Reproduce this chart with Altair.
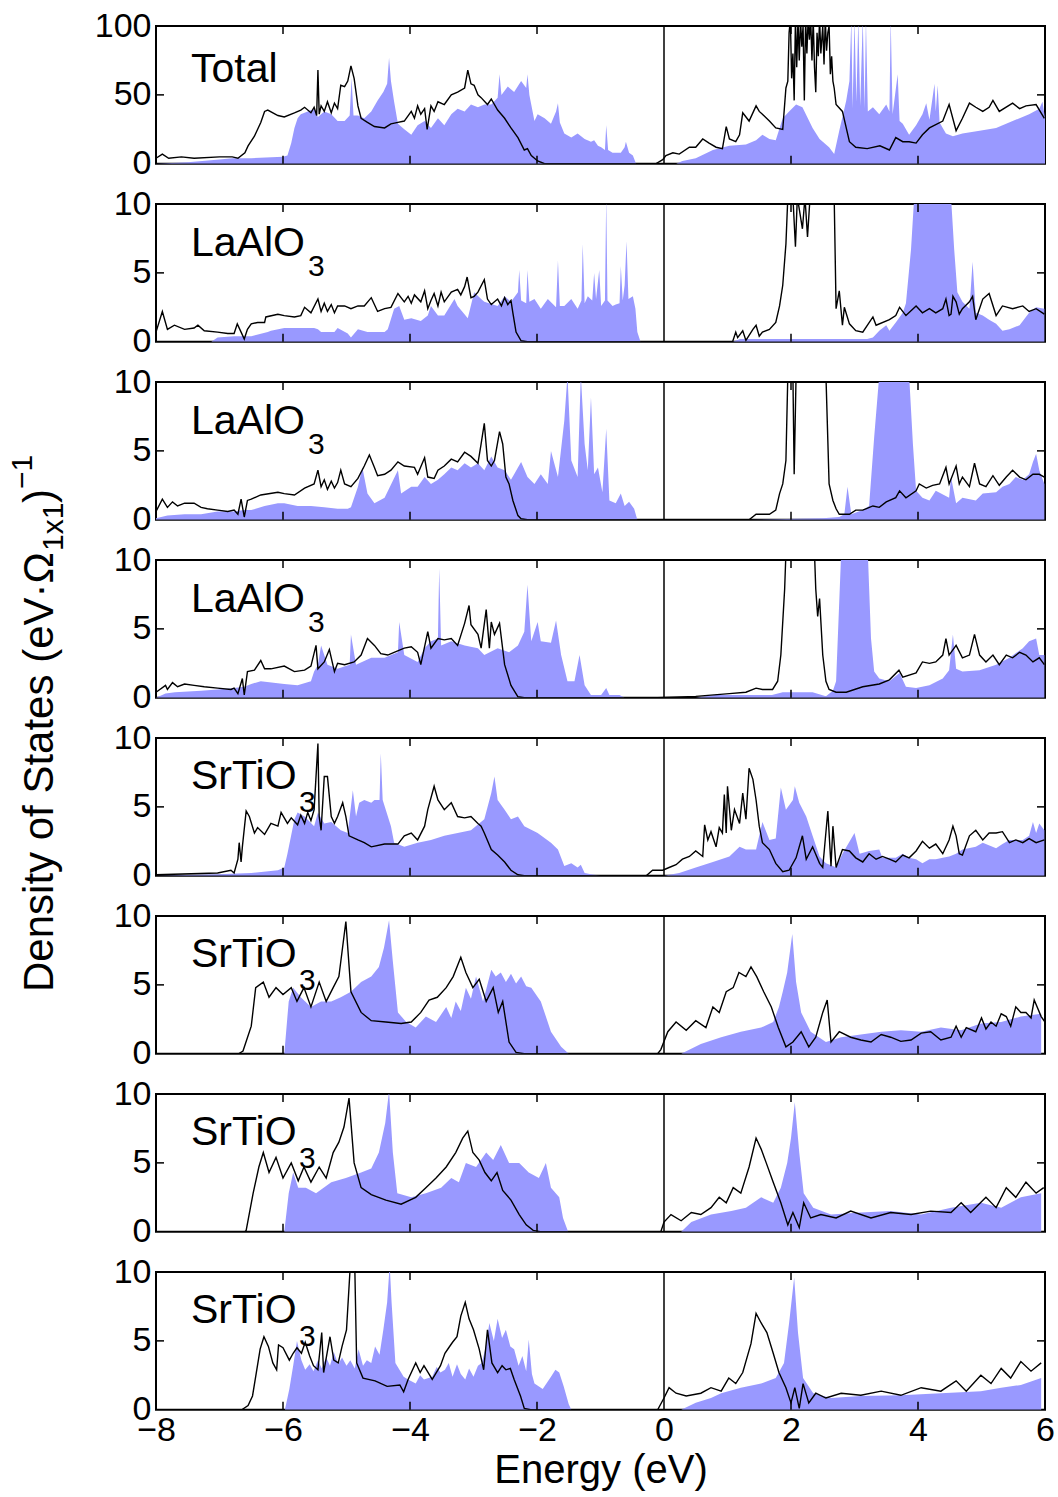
import altair as alt
import pandas as pd

FONT = "Liberation Sans"
BLUE = "#9999ff"
W = 889
H = 137.75

X_TICK_LABELS = [-8, -6, -4, -2, 0, 2, 4, 6]
X_INNER_TICKS = [-6, -4, -2, 2, 4]

# ---------------- Panel 1: Total ----------------
P1_FILL = [(-8.0,0),(-7.5,1),(-7.0,3),(-6.8,4),(-6.5,4),(-6.0,5),(-5.93,6),(-5.87,15),(-5.82,26),(-5.77,33),(-5.72,36),(-5.61,38),(-5.51,40),(-5.45,34),(-5.35,38),(-5.24,36),(-5.14,31),(-5.03,31),(-4.95,35),(-4.92,62),(-4.89,35),(-4.82,35),(-4.72,33),(-4.61,38),(-4.51,46),(-4.42,52),(-4.36,58),(-4.33,77),(-4.30,60),(-4.25,45),(-4.19,29),(-4.09,25),(-3.98,21),(-3.88,28),(-3.77,31),(-3.67,26),(-3.56,33),(-3.46,28),(-3.35,36),(-3.25,40),(-3.14,38),(-3.04,43),(-2.93,41),(-2.83,43),(-2.72,43),(-2.62,48),(-2.59,65),(-2.56,50),(-2.46,56),(-2.36,52),(-2.25,60),(-2.17,55),(-2.15,65),(-2.12,50),(-2.04,31),(-1.99,36),(-1.88,33),(-1.78,29),(-1.70,38),(-1.67,44),(-1.64,30),(-1.57,22),(-1.46,19),(-1.36,22),(-1.25,18),(-1.15,16),(-1.10,17),(-1.04,13),(-0.99,12),(-0.93,10),(-0.91,28),(-0.88,10),(-0.81,8),(-0.68,8),(-0.62,12),(-0.60,16),(-0.55,8),(-0.49,6),(-0.44,0),(0.19,0),(0.29,2),(0.50,4),(0.77,10),(1.03,13),(1.29,14),(1.45,17),(1.55,21),(1.66,18),(1.76,17),(1.87,33),(1.97,38),(2.08,43),(2.18,41),(2.34,26),(2.45,18),(2.60,12),(2.68,7),(2.76,24),(2.84,40),(2.87,46),(2.92,60),(2.95,105),(2.97,40),(3.00,105),(3.03,45),(3.06,105),(3.09,42),(3.13,105),(3.16,40),(3.18,105),(3.21,38),(3.29,41),(3.39,36),(3.50,43),(3.55,38),(3.57,105),(3.60,36),(3.68,65),(3.71,31),(3.76,29),(3.86,21),(3.97,28),(4.07,36),(4.13,44),(4.18,32),(4.26,58),(4.28,38),(4.31,57),(4.34,30),(4.44,22),(4.55,20),(4.70,22),(4.97,24),(5.23,26),(5.49,31),(5.75,36),(5.91,40),(5.96,45),(6.0,33)]
P1_LINE = [(-8.0,4),(-7.9,7),(-7.8,4),(-7.6,5),(-7.4,4),(-7.0,5),(-6.8,5),(-6.71,4),(-6.6,8),(-6.55,13),(-6.45,20),(-6.35,30),(-6.29,38),(-6.24,39),(-6.08,35),(-5.98,34),(-5.82,37),(-5.72,39),(-5.66,41),(-5.56,37),(-5.51,41),(-5.47,35),(-5.45,68),(-5.43,36),(-5.40,42),(-5.35,38),(-5.30,45),(-5.24,37),(-5.19,44),(-5.14,40),(-5.09,57),(-5.03,56),(-4.98,60),(-4.93,71),(-4.88,62),(-4.82,42),(-4.77,33),(-4.67,30),(-4.56,27),(-4.40,26),(-4.30,29),(-4.19,30),(-4.09,31),(-3.98,38),(-3.93,33),(-3.88,42),(-3.83,36),(-3.77,40),(-3.73,25),(-3.67,42),(-3.62,38),(-3.56,45),(-3.46,43),(-3.35,50),(-3.25,52),(-3.14,55),(-3.09,68),(-3.04,58),(-2.99,57),(-2.93,50),(-2.88,48),(-2.78,43),(-2.72,47),(-2.62,39),(-2.51,33),(-2.41,26),(-2.30,19),(-2.20,10),(-2.15,11),(-2.09,6),(-1.99,2),(-1.88,0),(-0.13,0),(-0.02,3),(0.03,6),(0.14,8),(0.24,7),(0.40,12),(0.50,12),(0.61,18),(0.71,15),(0.82,12),(0.92,11),(0.98,27),(1.03,18),(1.13,16),(1.19,21),(1.24,37),(1.34,31),(1.45,42),(1.50,38),(1.55,36),(1.66,31),(1.76,26),(1.87,25),(1.92,55),(1.95,60),(1.97,95),(1.99,105),(2.01,62),(2.03,80),(2.05,46),(2.07,105),(2.09,70),(2.11,105),(2.13,75),(2.15,105),(2.17,85),(2.19,100),(2.21,46),(2.23,105),(2.25,80),(2.27,105),(2.29,90),(2.31,105),(2.33,75),(2.35,105),(2.37,70),(2.39,52),(2.41,95),(2.43,78),(2.45,105),(2.47,80),(2.50,100),(2.52,72),(2.54,105),(2.56,82),(2.58,95),(2.60,100),(2.62,65),(2.64,78),(2.66,60),(2.68,55),(2.71,43),(2.81,38),(2.92,16),(3.02,12),(3.20,11),(3.40,13),(3.55,10),(3.65,19),(3.76,16),(3.86,16),(3.97,15),(4.07,21),(4.18,26),(4.39,31),(4.49,43),(4.60,24),(4.70,33),(4.81,44),(4.91,41),(5.02,38),(5.12,41),(5.18,46),(5.28,38),(5.49,44),(5.60,40),(5.70,42),(5.86,43),(5.99,33)]

# ---------------- Panel 2: LaAlO3 ----------------
P2_FILL = [(-8.0,0),(-7.13,0),(-7.03,0.3),(-6.77,0.4),(-6.50,0.4),(-6.24,0.7),(-6.19,0.8),(-5.98,1.0),(-5.72,1.0),(-5.51,1.0),(-5.45,0.9),(-5.40,0.7),(-5.19,0.7),(-5.14,1.0),(-4.98,0.6),(-4.93,0.3),(-4.82,0.9),(-4.67,0.7),(-4.40,0.7),(-4.35,0.9),(-4.25,2.4),(-4.17,2.6),(-4.09,1.6),(-3.98,1.7),(-3.83,1.5),(-3.72,1.9),(-3.67,2.6),(-3.56,1.9),(-3.46,1.9),(-3.30,3.1),(-3.25,2.6),(-3.09,1.7),(-2.99,3.6),(-2.88,3.1),(-2.83,2.9),(-2.62,2.6),(-2.51,3.3),(-2.41,2.9),(-2.30,3.6),(-2.28,5.2),(-2.25,3.0),(-2.17,2.8),(-2.15,5.2),(-2.12,2.9),(-2.04,3.1),(-1.94,2.4),(-1.83,3.1),(-1.70,2.5),(-1.67,5.9),(-1.64,2.6),(-1.57,2.6),(-1.46,3.1),(-1.36,2.4),(-1.30,3.0),(-1.28,7.1),(-1.25,2.8),(-1.20,3.3),(-1.13,3.0),(-1.10,5.0),(-1.07,3.1),(-1.02,5.2),(-0.99,2.6),(-0.93,3.0),(-0.91,10.5),(-0.89,3.0),(-0.81,2.6),(-0.76,2.7),(-0.70,2.8),(-0.68,5.5),(-0.65,3.0),(-0.62,4.1),(-0.59,7.3),(-0.56,3.1),(-0.49,3.3),(-0.45,2.4),(-0.42,0.7),(-0.37,0),(1.08,0),(1.2,0.2),(3.2,0.2),(3.29,0.3),(3.39,0.8),(3.50,1.2),(3.55,0.8),(3.65,1.4),(3.76,2.1),(3.81,2.8),(3.89,6.7),(3.94,10.5),(4.52,10.5),(4.57,6.7),(4.62,3.6),(4.70,2.9),(4.81,2.4),(4.86,5.8),(4.91,2.1),(5.02,1.9),(5.12,1.6),(5.23,1.3),(5.33,0.8),(5.44,0.9),(5.60,1.2),(5.75,2.1),(5.86,2.5),(5.99,2.4)]
P2_LINE = [(-8.0,0.7),(-7.9,2.2),(-7.82,0.9),(-7.71,1.2),(-7.55,0.9),(-7.40,1.0),(-7.34,1.2),(-7.24,0.8),(-7.03,0.7),(-6.87,0.6),(-6.77,0.6),(-6.72,1.3),(-6.66,0.7),(-6.61,0.2),(-6.56,0.9),(-6.50,1.3),(-6.40,1.4),(-6.29,1.4),(-6.27,1.8),(-6.08,2.0),(-5.98,1.9),(-5.82,1.8),(-5.72,1.9),(-5.66,2.5),(-5.56,2.1),(-5.45,3.1),(-5.40,2.2),(-5.35,2.8),(-5.30,2.2),(-5.24,2.7),(-5.19,2.1),(-5.14,2.6),(-5.03,2.6),(-4.93,2.4),(-4.82,2.6),(-4.72,2.6),(-4.61,3.2),(-4.51,2.2),(-4.40,2.4),(-4.30,2.5),(-4.19,3.5),(-4.09,2.9),(-4.03,3.3),(-3.98,2.8),(-3.93,3.4),(-3.83,2.9),(-3.77,3.7),(-3.72,2.4),(-3.67,3.0),(-3.62,3.5),(-3.56,2.6),(-3.51,3.6),(-3.46,2.9),(-3.35,3.6),(-3.25,3.8),(-3.20,3.4),(-3.14,4.0),(-3.10,4.7),(-3.04,3.2),(-2.99,3.3),(-2.93,3.6),(-2.83,4.5),(-2.78,3.1),(-2.72,2.7),(-2.62,3.1),(-2.56,2.6),(-2.51,3.2),(-2.46,2.7),(-2.41,3.0),(-2.38,2.1),(-2.33,0.7),(-2.25,0.07),(-2.15,0),(1.08,0),(1.13,0.7),(1.16,0.3),(1.24,0.8),(1.29,0.1),(1.40,0.9),(1.45,1.2),(1.50,0.4),(1.55,0.7),(1.66,0.9),(1.76,1.4),(1.82,2.6),(1.87,4.1),(1.92,7.1),(1.95,10.5),(2.03,10.5),(2.07,6.9),(2.10,10.5),(2.18,8.2),(2.22,10.5),(2.26,7.6),(2.30,10.5),(2.68,10.5),(2.71,2.4),(2.76,3.7),(2.81,1.2),(2.84,2.5),(2.92,1.3),(3.02,0.8),(3.13,0.7),(3.29,1.8),(3.34,1.2),(3.55,1.6),(3.65,1.9),(3.71,2.5),(3.81,1.9),(3.97,2.6),(4.07,2.1),(4.18,2.4),(4.28,2.1),(4.39,2.4),(4.44,3.1),(4.49,1.9),(4.52,2.0),(4.55,3.3),(4.60,2.9),(4.65,2.0),(4.70,2.4),(4.81,2.9),(4.86,3.3),(4.91,1.6),(5.02,3.1),(5.12,3.5),(5.23,1.9),(5.33,2.6),(5.49,2.4),(5.65,2.6),(5.75,2.2),(5.86,2.4),(5.99,2.0)]

# ---------------- Panel 3: LaAlO3 ----------------
P3_FILL = [(-8.0,0.1),(-7.82,0.3),(-7.55,0.4),(-7.29,0.4),(-7.03,0.6),(-6.77,0.6),(-6.61,0.7),(-6.50,0.7),(-6.29,1.0),(-6.08,1.2),(-5.98,1.2),(-5.77,1.0),(-5.56,1.0),(-5.35,0.9),(-5.14,0.8),(-4.98,0.8),(-4.93,0.9),(-4.82,2.4),(-4.75,3.8),(-4.67,1.9),(-4.56,1.2),(-4.40,1.6),(-4.19,3.6),(-4.14,1.9),(-3.98,2.4),(-3.88,2.4),(-3.77,3.1),(-3.67,2.6),(-3.56,2.9),(-3.46,3.3),(-3.35,3.8),(-3.25,3.6),(-3.14,4.1),(-3.04,3.8),(-2.93,4.1),(-2.83,3.6),(-2.72,4.6),(-2.62,3.8),(-2.51,3.6),(-2.41,2.9),(-2.36,3.3),(-2.30,3.8),(-2.25,4.2),(-2.15,3.1),(-2.04,2.6),(-1.94,3.3),(-1.83,2.6),(-1.78,5.0),(-1.67,3.1),(-1.57,7.2),(-1.52,10.5),(-1.46,4.3),(-1.36,3.1),(-1.31,10.5),(-1.25,5.5),(-1.20,3.6),(-1.15,8.9),(-1.10,3.3),(-1.04,3.8),(-0.97,2.0),(-0.91,6.6),(-0.86,1.4),(-0.76,1.2),(-0.68,1.9),(-0.62,1.0),(-0.55,1.3),(-0.47,0.8),(-0.42,0),(1.34,0),(2.5,0.1),(2.76,0.2),(2.84,0.4),(2.89,2.4),(2.95,0.4),(3.13,0.7),(3.23,1.0),(3.31,6.0),(3.39,10.5),(3.86,10.5),(3.92,5.5),(3.97,2.1),(4.07,1.6),(4.18,1.4),(4.28,2.1),(4.49,1.6),(4.52,3.1),(4.60,1.2),(4.70,1.6),(4.91,1.4),(5.02,1.9),(5.23,2.0),(5.33,2.4),(5.44,2.6),(5.54,3.1),(5.65,2.9),(5.75,3.3),(5.81,4.2),(5.86,4.8),(5.91,3.6),(5.99,2.6)]
P3_LINE = [(-8.0,0.6),(-7.9,1.5),(-7.82,0.9),(-7.74,1.3),(-7.66,1.0),(-7.55,1.2),(-7.40,1.2),(-7.29,0.9),(-7.19,0.8),(-7.03,0.7),(-6.87,0.6),(-6.77,0.7),(-6.71,0.4),(-6.66,1.5),(-6.61,0.2),(-6.56,1.4),(-6.50,1.5),(-6.35,1.8),(-6.08,2.0),(-5.98,1.9),(-5.82,1.8),(-5.66,2.3),(-5.51,2.6),(-5.45,3.6),(-5.40,2.4),(-5.35,2.9),(-5.30,2.2),(-5.24,2.8),(-5.19,2.3),(-5.14,2.7),(-5.09,3.6),(-5.03,2.6),(-4.93,2.4),(-4.82,3.0),(-4.72,3.9),(-4.64,4.7),(-4.56,3.8),(-4.51,3.2),(-4.40,3.3),(-4.30,3.6),(-4.19,4.2),(-4.09,3.9),(-3.93,3.8),(-3.88,3.3),(-3.77,4.5),(-3.72,3.1),(-3.62,3.0),(-3.56,3.6),(-3.46,3.9),(-3.35,4.4),(-3.25,4.2),(-3.14,4.9),(-3.04,4.6),(-2.93,4.1),(-2.88,5.5),(-2.83,7.0),(-2.78,4.3),(-2.72,3.9),(-2.67,4.3),(-2.59,6.4),(-2.54,5.5),(-2.49,3.1),(-2.44,2.6),(-2.38,1.4),(-2.30,0.3),(-2.25,0.07),(-2.15,0),(1.34,0),(1.45,0.4),(1.55,0.4),(1.66,0.4),(1.76,0.7),(1.82,1.9),(1.87,2.6),(1.92,4.3),(1.95,10.5),(2.03,10.5),(2.05,3.3),(2.08,10.5),(2.55,10.5),(2.60,2.6),(2.66,1.4),(2.71,0.8),(2.76,0.4),(2.92,0.4),(3.02,0.7),(3.13,0.7),(3.29,1.0),(3.39,0.9),(3.50,1.3),(3.65,1.6),(3.71,2.1),(3.81,1.6),(3.97,2.1),(4.02,2.6),(4.13,2.3),(4.23,2.5),(4.34,2.6),(4.44,3.8),(4.49,2.6),(4.60,3.9),(4.65,2.6),(4.70,3.1),(4.81,2.4),(4.89,4.1),(4.97,2.6),(5.07,2.4),(5.18,3.2),(5.28,2.5),(5.39,3.1),(5.49,3.6),(5.60,3.1),(5.70,2.9),(5.81,3.3),(5.91,3.3),(5.99,3.1)]

# ---------------- Panel 4: LaAlO3 ----------------
P4_FILL = [(-8.0,0),(-7.85,0.3),(-7.7,0.4),(-7.29,0.5),(-7.03,0.6),(-6.77,0.7),(-6.61,0.8),(-6.50,1.0),(-6.35,1.2),(-5.98,1.0),(-5.77,0.9),(-5.56,1.2),(-5.51,1.9),(-5.45,2.4),(-5.40,3.8),(-5.30,2.4),(-5.14,2.1),(-4.95,2.4),(-4.93,4.6),(-4.85,2.4),(-4.61,2.9),(-4.40,2.9),(-4.19,3.3),(-4.17,5.5),(-4.09,3.1),(-3.88,2.6),(-3.77,3.6),(-3.67,4.1),(-3.56,4.3),(-3.54,9.4),(-3.51,3.8),(-3.35,4.1),(-3.14,3.8),(-2.93,3.6),(-2.83,3.1),(-2.62,3.6),(-2.44,3.3),(-2.30,3.8),(-2.20,4.8),(-2.15,8.2),(-2.09,4.1),(-1.99,5.5),(-1.94,4.1),(-1.78,4.0),(-1.70,5.6),(-1.62,3.1),(-1.52,1.2),(-1.41,1.2),(-1.33,3.1),(-1.25,0.9),(-1.15,0.2),(-0.99,0.2),(-0.91,0.7),(-0.86,0.2),(-0.70,0.2),(-0.62,0),(0.5,0),(0.8,0.2),(1.7,0.2),(1.87,0.4),(2.34,0.4),(2.55,0.1),(2.66,0.5),(2.71,1.2),(2.79,10.5),(3.21,10.5),(3.26,4.3),(3.31,1.9),(3.39,1.4),(3.55,1.2),(3.71,1.8),(3.81,0.8),(3.97,0.7),(4.18,0.9),(4.39,1.4),(4.49,2.0),(4.55,4.6),(4.60,2.1),(4.70,1.9),(4.97,2.0),(5.23,2.4),(5.44,2.9),(5.65,3.6),(5.75,4.1),(5.86,4.3),(5.91,3.1),(5.99,3.1)]
P4_LINE = [(-8.0,0.4),(-7.85,0.9),(-7.82,0.6),(-7.74,1.1),(-7.66,0.8),(-7.55,1.0),(-7.40,0.9),(-7.24,0.8),(-7.03,0.7),(-6.82,0.6),(-6.77,0.7),(-6.71,0.3),(-6.64,1.4),(-6.61,0.2),(-6.56,1.9),(-6.45,2.0),(-6.35,2.7),(-6.29,2.1),(-6.19,2.1),(-5.98,2.3),(-5.82,1.9),(-5.66,2.0),(-5.56,2.3),(-5.48,3.8),(-5.45,2.1),(-5.35,2.6),(-5.27,3.5),(-5.19,1.9),(-5.14,2.5),(-5.03,2.4),(-4.88,2.6),(-4.77,3.1),(-4.67,4.3),(-4.56,3.8),(-4.46,3.2),(-4.35,3.1),(-4.25,3.3),(-4.09,3.6),(-3.98,3.7),(-3.88,3.3),(-3.83,2.4),(-3.72,4.8),(-3.67,3.6),(-3.56,4.3),(-3.46,4.2),(-3.35,4.3),(-3.25,3.8),(-3.14,5.4),(-3.07,6.7),(-3.04,5.3),(-2.93,4.6),(-2.88,3.6),(-2.80,6.4),(-2.75,3.6),(-2.72,5.5),(-2.67,4.6),(-2.59,5.4),(-2.51,2.4),(-2.41,0.9),(-2.30,0.07),(-2.2,0),(-0.1,0),(0.5,0.1),(1.03,0.3),(1.29,0.4),(1.45,0.7),(1.55,0.6),(1.71,0.6),(1.79,1.2),(1.84,3.1),(1.90,7.9),(1.92,10.5),(2.37,10.5),(2.39,7.9),(2.42,5.9),(2.45,7.2),(2.50,3.1),(2.55,1.2),(2.60,0.6),(2.71,0.4),(2.87,0.4),(3.13,0.8),(3.39,1.0),(3.55,1.3),(3.70,2.0),(3.76,1.5),(3.97,1.8),(4.07,2.6),(4.18,2.5),(4.28,2.6),(4.39,3.1),(4.44,4.3),(4.49,3.1),(4.60,3.8),(4.70,2.9),(4.81,3.1),(4.89,4.6),(4.97,3.1),(5.07,2.6),(5.18,3.1),(5.28,2.4),(5.39,3.1),(5.49,2.9),(5.60,3.3),(5.70,3.1),(5.81,2.6),(5.91,2.9),(5.99,2.4)]

# ---------------- Panel 5: SrTiO3 ----------------
P5_FILL = [(-8.0,0),(-7.03,0.1),(-6.50,0.2),(-6.08,0.4),(-5.98,0.6),(-5.93,1.6),(-5.82,4.1),(-5.77,4.6),(-5.66,4.3),(-5.51,3.6),(-5.45,4.6),(-5.35,3.8),(-5.24,3.9),(-5.09,3.3),(-4.98,3.1),(-4.90,6.2),(-4.85,4.3),(-4.80,5.3),(-4.72,5.5),(-4.61,5.3),(-4.56,5.5),(-4.48,5.5),(-4.46,8.9),(-4.43,5.5),(-4.30,3.6),(-4.25,2.4),(-4.09,2.1),(-3.88,2.4),(-3.67,2.6),(-3.46,2.9),(-3.25,3.1),(-3.04,3.3),(-2.83,4.1),(-2.72,6.0),(-2.67,7.2),(-2.62,5.5),(-2.51,4.8),(-2.41,4.1),(-2.30,4.3),(-2.20,3.6),(-1.99,3.1),(-1.78,2.4),(-1.67,1.9),(-1.57,0.7),(-1.46,0.9),(-1.36,0.6),(-1.31,0.8),(-1.25,0.2),(-1.15,0.1),(-1.0,0),(0.0,0),(0.24,0.2),(0.50,0.6),(0.77,1.0),(1.03,1.4),(1.19,2.1),(1.29,1.9),(1.45,1.9),(1.55,3.9),(1.66,2.6),(1.76,2.7),(1.84,6.4),(1.92,4.8),(2.03,5.5),(2.06,6.5),(2.13,5.3),(2.24,4.3),(2.34,2.9),(2.45,1.4),(2.55,0.9),(2.66,0.7),(2.71,0.6),(2.81,1.6),(3.00,3.1),(3.08,1.6),(3.23,1.8),(3.39,1.9),(3.44,1.3),(3.65,1.3),(3.76,1.6),(3.86,1.3),(3.97,1.2),(4.07,0.9),(4.18,1.2),(4.28,1.2),(4.39,1.3),(4.49,1.4),(4.60,1.6),(4.70,1.9),(4.91,2.1),(5.02,2.4),(5.23,2.0),(5.33,2.3),(5.44,2.6),(5.65,2.6),(5.75,2.9),(5.81,3.9),(5.86,3.1),(5.91,3.8),(5.99,3.3)]
P5_LINE = [(-8.0,0.07),(-7.03,0.2),(-6.82,0.4),(-6.77,0.2),(-6.71,1.2),(-6.69,2.4),(-6.66,1.0),(-6.64,2.1),(-6.58,4.7),(-6.53,4.3),(-6.45,3.1),(-6.40,3.5),(-6.29,3.0),(-6.19,3.8),(-6.08,3.6),(-6.03,4.6),(-5.93,3.8),(-5.87,4.2),(-5.77,3.7),(-5.72,4.4),(-5.66,3.8),(-5.61,4.6),(-5.56,4.0),(-5.51,4.8),(-5.45,9.6),(-5.43,4.3),(-5.40,3.3),(-5.35,7.2),(-5.30,7.2),(-5.24,4.3),(-5.19,3.8),(-5.14,4.3),(-5.06,5.3),(-5.01,4.3),(-4.96,2.9),(-4.82,2.6),(-4.72,2.4),(-4.61,2.1),(-4.40,2.3),(-4.19,2.3),(-4.09,2.9),(-3.98,3.1),(-3.88,2.6),(-3.77,3.6),(-3.72,4.8),(-3.62,6.5),(-3.56,5.5),(-3.46,4.8),(-3.35,5.3),(-3.25,4.3),(-3.14,4.2),(-3.04,4.3),(-2.93,3.8),(-2.88,3.6),(-2.83,3.1),(-2.72,1.9),(-2.62,1.5),(-2.51,1.0),(-2.41,0.4),(-2.30,0.07),(-2.2,0),(-0.28,0),(-0.18,0.4),(-0.02,0.4),(0.08,0.6),(0.19,0.8),(0.29,1.2),(0.40,1.4),(0.50,1.8),(0.61,1.4),(0.64,3.7),(0.69,2.6),(0.74,3.2),(0.82,2.1),(0.87,3.5),(0.92,3.1),(0.95,5.9),(0.98,3.1),(1.00,6.5),(1.06,3.3),(1.11,4.8),(1.19,3.8),(1.24,6.0),(1.29,4.1),(1.34,7.8),(1.40,7.0),(1.45,5.5),(1.50,3.6),(1.55,2.4),(1.66,1.9),(1.76,0.9),(1.87,0.3),(1.97,0.4),(2.08,1.3),(2.18,2.9),(2.24,1.2),(2.34,2.1),(2.45,0.9),(2.50,0.6),(2.58,4.7),(2.63,0.7),(2.66,3.6),(2.71,0.6),(2.81,1.9),(2.92,1.8),(3.02,1.3),(3.13,1.0),(3.23,1.6),(3.34,1.2),(3.44,1.4),(3.55,1.2),(3.65,1.0),(3.76,1.5),(3.86,1.3),(3.97,1.8),(4.07,2.5),(4.18,2.0),(4.28,2.3),(4.39,1.6),(4.49,2.6),(4.55,3.6),(4.60,2.9),(4.65,1.6),(4.70,1.5),(4.81,2.9),(4.91,3.3),(5.02,2.6),(5.12,3.1),(5.23,3.1),(5.33,3.2),(5.44,2.4),(5.54,2.6),(5.65,2.4),(5.75,2.7),(5.86,2.4),(5.99,2.6)]

# ---------------- Panel 6: SrTiO3 ----------------
P6_FILL = [(-8.0,0),(-5.98,0),(-5.91,3.8),(-5.84,4.8),(-5.72,4.1),(-5.56,3.4),(-5.40,3.8),(-5.24,3.8),(-5.09,4.1),(-4.93,4.5),(-4.77,5.2),(-4.61,5.6),(-4.49,6.3),(-4.41,7.7),(-4.33,9.7),(-4.27,6.7),(-4.19,3.0),(-4.06,2.3),(-3.91,1.9),(-3.75,2.7),(-3.59,2.3),(-3.43,3.4),(-3.35,2.6),(-3.28,3.8),(-3.20,3.1),(-3.12,4.8),(-3.04,4.0),(-2.96,5.6),(-2.85,3.8),(-2.72,6.1),(-2.65,5.6),(-2.57,5.9),(-2.49,5.2),(-2.41,5.8),(-2.33,5.1),(-2.25,5.6),(-2.17,4.9),(-2.09,4.8),(-1.94,3.8),(-1.78,1.6),(-1.62,0.5),(-1.50,0),(0.27,0),(0.58,0.7),(0.90,1.2),(1.21,1.6),(1.53,1.9),(1.72,2.3),(1.81,3.4),(1.87,4.5),(1.94,5.9),(2.02,8.7),(2.08,5.2),(2.16,3.0),(2.31,1.6),(2.55,0.85),(2.79,1.2),(3.10,1.4),(3.42,1.6),(3.73,1.7),(4.05,1.6),(4.36,1.9),(4.68,1.7),(4.99,2.2),(5.31,2.3),(5.62,2.7),(5.94,2.9)]
P6_LINE = [(-8.0,0),(-6.7,0),(-6.63,0.2),(-6.5,2.0),(-6.43,4.8),(-6.31,5.2),(-6.22,4.1),(-6.11,4.8),(-6.0,4.3),(-5.87,4.8),(-5.78,3.8),(-5.67,4.8),(-5.56,3.4),(-5.43,5.2),(-5.32,3.8),(-5.21,4.8),(-5.12,5.6),(-5.01,9.6),(-4.93,4.5),(-4.77,3.0),(-4.61,2.4),(-4.38,2.3),(-4.14,2.2),(-3.98,2.3),(-3.83,3.0),(-3.70,3.9),(-3.57,4.1),(-3.43,4.8),(-3.32,5.6),(-3.20,7.0),(-3.12,5.9),(-3.01,4.8),(-2.91,5.4),(-2.80,3.8),(-2.69,4.8),(-2.61,3.0),(-2.54,3.8),(-2.44,0.85),(-2.33,0.1),(-2.2,0),(-0.1,0),(-0.05,0.3),(0.06,1.6),(0.19,2.3),(0.35,1.7),(0.50,2.4),(0.66,1.9),(0.77,3.4),(0.87,3.0),(0.98,4.5),(1.09,4.8),(1.18,5.9),(1.29,5.6),(1.37,6.3),(1.46,5.6),(1.57,4.5),(1.69,3.4),(1.80,1.9),(1.92,0.5),(2.03,0.85),(2.16,1.6),(2.28,0.5),(2.39,1.2),(2.50,3.0),(2.57,3.9),(2.63,0.85),(2.76,1.6),(2.94,1.2),(3.10,1.0),(3.26,0.85),(3.42,1.4),(3.57,1.2),(3.73,0.9),(3.89,1.0),(4.05,1.5),(4.20,1.6),(4.36,1.0),(4.52,1.2),(4.60,2.0),(4.68,1.2),(4.76,1.9),(4.91,1.6),(5.00,2.6),(5.07,1.8),(5.15,2.3),(5.23,2.0),(5.31,2.9),(5.39,2.7),(5.46,2.0),(5.54,3.4),(5.62,3.0),(5.70,3.0),(5.78,2.6),(5.83,3.9),(5.94,2.7),(6.0,2.3)]

# ---------------- Panel 7: SrTiO3 ----------------
P7_FILL = [(-8.0,0),(-5.98,0),(-5.91,2.8),(-5.84,4.3),(-5.76,3.2),(-5.64,3.2),(-5.48,2.8),(-5.24,3.6),(-5.01,3.9),(-4.77,4.3),(-4.61,4.6),(-4.49,5.75),(-4.39,7.9),(-4.33,10.2),(-4.27,5.75),(-4.20,2.8),(-3.98,2.5),(-3.75,2.8),(-3.51,3.2),(-3.35,3.9),(-3.23,3.6),(-3.12,5.0),(-2.96,4.7),(-2.80,5.75),(-2.69,5.2),(-2.57,6.3),(-2.44,5.0),(-2.28,5.0),(-2.13,4.3),(-1.97,3.9),(-1.86,5.0),(-1.78,3.2),(-1.65,2.5),(-1.59,1.0),(-1.51,0),(0.27,0),(0.43,0.7),(0.74,1.25),(1.06,1.5),(1.29,1.75),(1.53,2.5),(1.72,2.1),(1.84,3.2),(1.94,5.0),(2.0,6.8),(2.06,9.4),(2.13,5.75),(2.20,2.8),(2.35,1.75),(2.63,1.25),(3.10,1.4),(3.57,1.5),(4.05,1.25),(4.52,1.75),(4.99,2.1),(5.31,1.75),(5.62,2.5),(5.94,2.8)]
P7_LINE = [(-8.0,0),(-6.6,0),(-6.58,0.1),(-6.47,2.8),(-6.38,4.7),(-6.31,5.75),(-6.22,4.3),(-6.11,5.4),(-6.0,3.9),(-5.87,5.0),(-5.76,3.7),(-5.67,4.7),(-5.56,3.6),(-5.43,4.7),(-5.32,3.9),(-5.21,5.75),(-5.12,6.5),(-5.04,7.6),(-4.96,9.7),(-4.88,5.0),(-4.77,3.2),(-4.61,2.7),(-4.38,2.3),(-4.14,2.0),(-3.91,2.5),(-3.75,3.2),(-3.59,3.9),(-3.43,4.7),(-3.28,5.75),(-3.17,6.8),(-3.09,7.3),(-3.01,5.75),(-2.91,5.2),(-2.82,4.3),(-2.72,3.7),(-2.63,4.3),(-2.54,3.0),(-2.41,2.3),(-2.28,1.25),(-2.17,0.5),(-2.06,0.1),(-1.95,0),(-0.05,0),(0.0,0.7),(0.11,1.25),(0.27,0.8),(0.43,1.4),(0.58,1.25),(0.74,1.75),(0.87,2.5),(0.98,2.1),(1.09,3.2),(1.21,2.8),(1.34,4.7),(1.45,6.8),(1.53,6.0),(1.61,5.0),(1.72,3.6),(1.84,2.1),(1.95,0.5),(2.03,1.4),(2.13,0.3),(2.20,2.1),(2.31,1.0),(2.47,1.25),(2.71,1.0),(2.94,1.5),(3.26,1.0),(3.57,1.4),(3.89,1.25),(4.20,1.5),(4.52,1.4),(4.68,2.1),(4.83,1.4),(5.07,2.5),(5.23,1.75),(5.39,3.2),(5.54,2.5),(5.70,3.6),(5.86,2.8),(5.98,3.2)]

# ---------------- Panel 8: SrTiO3 ----------------
P8_FILL = [(-8.0,0),(-5.97,0),(-5.90,1.5),(-5.84,3.2),(-5.78,5.0),(-5.71,3.6),(-5.65,2.9),(-5.58,3.3),(-5.52,2.8),(-5.45,3.6),(-5.39,3.0),(-5.32,3.8),(-5.26,3.2),(-5.20,4.2),(-5.13,3.3),(-5.07,3.8),(-5.00,3.2),(-4.94,3.6),(-4.87,3.0),(-4.81,4.4),(-4.74,3.2),(-4.68,3.6),(-4.61,3.4),(-4.55,4.6),(-4.48,4.0),(-4.42,5.8),(-4.36,7.8),(-4.32,10.5),(-4.29,7.8),(-4.23,3.4),(-4.10,2.4),(-4.03,2.2),(-3.91,1.9),(-3.84,2.5),(-3.78,2.2),(-3.65,2.4),(-3.58,3.1),(-3.52,2.7),(-3.45,2.9),(-3.39,3.4),(-3.33,2.4),(-3.26,3.3),(-3.20,2.6),(-3.13,2.2),(-3.07,3.0),(-3.00,2.4),(-2.93,3.2),(-2.87,3.4),(-2.81,4.5),(-2.75,6.3),(-2.68,5.0),(-2.62,6.6),(-2.55,5.2),(-2.49,5.8),(-2.42,4.6),(-2.36,4.4),(-2.29,3.2),(-2.23,3.9),(-2.17,2.8),(-2.13,5.1),(-2.08,2.6),(-2.04,1.9),(-1.91,1.5),(-1.78,2.4),(-1.71,2.9),(-1.65,2.7),(-1.58,1.7),(-1.50,0.4),(-1.46,0),(0.27,0),(0.50,0.5),(0.74,0.85),(0.90,1.2),(1.21,1.6),(1.53,1.9),(1.76,2.3),(1.89,3.4),(1.97,6.3),(2.05,9.6),(2.11,5.6),(2.19,2.3),(2.35,1.2),(2.63,0.85),(3.10,1.0),(3.73,1.05),(4.36,1.2),(4.99,1.35),(5.31,1.6),(5.62,1.8),(5.94,2.3)]
P8_LINE = [(-8.0,0),(-6.65,0),(-6.55,0.3),(-6.48,1.0),(-6.42,2.7),(-6.36,4.4),(-6.30,5.3),(-6.23,4.6),(-6.16,3.4),(-6.10,2.9),(-6.07,4.7),(-6.00,4.5),(-5.90,3.6),(-5.84,4.1),(-5.78,4.5),(-5.71,4.1),(-5.65,4.9),(-5.58,3.9),(-5.52,3.2),(-5.45,2.9),(-5.39,5.6),(-5.36,2.7),(-5.26,5.3),(-5.20,3.6),(-5.13,3.4),(-5.07,4.6),(-5.00,5.8),(-4.94,10.5),(-4.87,10.5),(-4.84,3.4),(-4.74,2.3),(-4.55,2.1),(-4.36,1.7),(-4.16,1.8),(-4.10,1.3),(-4.03,2.2),(-3.91,3.4),(-3.84,2.7),(-3.78,3.2),(-3.65,2.2),(-3.52,3.2),(-3.45,4.1),(-3.39,4.5),(-3.33,4.9),(-3.26,5.3),(-3.20,6.8),(-3.13,7.8),(-3.07,6.6),(-3.00,5.8),(-2.91,4.4),(-2.84,2.9),(-2.78,5.8),(-2.71,3.4),(-2.62,2.7),(-2.55,3.2),(-2.49,2.9),(-2.42,3.0),(-2.36,2.2),(-2.26,1.0),(-2.20,0.1),(-2.1,0),(-0.1,0),(0.0,0.85),(0.08,1.6),(0.19,1.2),(0.35,1.0),(0.58,1.2),(0.74,1.6),(0.90,1.35),(1.02,2.3),(1.13,1.9),(1.24,2.7),(1.37,4.8),(1.45,7.0),(1.53,6.3),(1.62,5.6),(1.72,4.1),(1.81,2.7),(1.92,1.6),(2.0,0.5),(2.06,1.6),(2.13,0.1),(2.19,1.9),(2.28,0.5),(2.39,1.2),(2.55,0.85),(2.79,1.2),(3.10,1.05),(3.42,1.35),(3.73,1.05),(4.05,1.6),(4.36,1.35),(4.60,2.1),(4.76,1.35),(4.99,2.5),(5.15,1.9),(5.31,3.0),(5.46,2.3),(5.62,3.5),(5.78,2.8),(5.94,3.4)]

PANELS = [
    dict(fill=P1_FILL, line=P1_LINE, ymax=100, label="Total", sub="", lab_y=56),
    dict(fill=P2_FILL, line=P2_LINE, ymax=10, label="LaAlO", sub="3", lab_y=52, sub_x=152, sub_y=72),
    dict(fill=P3_FILL, line=P3_LINE, ymax=10, label="LaAlO", sub="3", lab_y=52, sub_x=152, sub_y=72),
    dict(fill=P4_FILL, line=P4_LINE, ymax=10, label="LaAlO", sub="3", lab_y=52, sub_x=152, sub_y=72),
    dict(fill=P5_FILL, line=P5_LINE, ymax=10, label="SrTiO", sub="3", lab_y=51, sub_x=143, sub_y=74),
    dict(fill=P6_FILL, line=P6_LINE, ymax=10, label="SrTiO", sub="3", lab_y=51, sub_x=143, sub_y=74),
    dict(fill=P7_FILL, line=P7_LINE, ymax=10, label="SrTiO", sub="3", lab_y=51, sub_x=143, sub_y=74),
    dict(fill=P8_FILL, line=P8_LINE, ymax=10, label="SrTiO", sub="3", lab_y=51, sub_x=143, sub_y=74),
]

# y-axis title pieces: (text, font size, baseline offset from plot left, start offset from panel-4 top)
YTITLE = [
    ("Density of States (eV\u00b7\u03a9", 42, -103, 432),
    ("1x1", 30, -93, -9),
    (")", 42, -103, -57),
    ("\u22121", 30, -124, -71),
]


def txt(text, size, x, y, angle=0):
    return alt.Chart(pd.DataFrame({"t": [text]})).mark_text(
        font=FONT, fontSize=size, color="black", align="left",
        baseline="alphabetic", angle=angle,
    ).encode(text="t:N", x=alt.value(x), y=alt.value(y))


def build(i, p):
    bottom = i == len(PANELS) - 1
    ymax = p["ymax"]
    xs = alt.Scale(domain=[-8, 6], nice=False, zero=False)
    ys = alt.Scale(domain=[0, ymax], nice=False, zero=True)
    if bottom:
        xa = alt.Axis(values=X_TICK_LABELS, format="d", ticks=False, domain=False,
                      grid=False, labelFontSize=34, labelFont=FONT, labelColor="black",
                      labelPadding=4, labelFlush=False, title="Energy (eV)",
                      titleFontSize=40, titleFont=FONT, titleFontWeight="normal",
                      titleColor="black", titlePadding=3)
    else:
        xa = None
    ya = alt.Axis(values=[0, ymax // 2, ymax], format="d", ticks=False, domain=False,
                  grid=False, labelFontSize=34, labelFont=FONT, labelColor="black",
                  labelPadding=5, labelFlush=False, title=None)

    def X():
        return alt.X("E:Q", scale=xs, axis=xa)

    def Y():
        return alt.Y("D:Q", scale=ys, axis=ya)

    fill_df = pd.DataFrame(p["fill"], columns=["E", "D"])
    line_df = pd.DataFrame(p["line"], columns=["E", "D"])
    area = alt.Chart(fill_df).mark_area(color=BLUE, opacity=1, clip=True).encode(x=X(), y=Y())
    line = alt.Chart(line_df).mark_line(color="black", strokeWidth=1.4, clip=True).encode(x=X(), y=Y())
    zero = alt.Chart(pd.DataFrame({"E": [0]})).mark_rule(color="black", strokeWidth=1.5).encode(x=X())
    xt = pd.DataFrame({"E": X_INNER_TICKS})
    top_t = alt.Chart(xt).mark_rule(color="black", strokeWidth=1.5).encode(
        x=X(), y=alt.value(0), y2=alt.value(8))
    bot_t = alt.Chart(xt).mark_rule(color="black", strokeWidth=1.5).encode(
        x=X(), y=alt.value(H), y2=alt.value(H - 8))
    yt = pd.DataFrame({"D": [ymax / 2]})
    left_t = alt.Chart(yt).mark_rule(color="black", strokeWidth=1.5).encode(
        y=Y(), x=alt.value(0), x2=alt.value(8))
    right_t = alt.Chart(yt).mark_rule(color="black", strokeWidth=1.5).encode(
        y=Y(), x=alt.value(W - 8), x2=alt.value(W))
    layers = [area, line, zero, top_t, bot_t, left_t, right_t,
              txt(p["label"], 41, 35, p["lab_y"])]
    if p["sub"]:
        layers.append(txt(p["sub"], 30, p["sub_x"], p["sub_y"]))
    if i == 0:
        anchor = alt.Chart(pd.DataFrame({"a": [0]})).mark_rule(strokeOpacity=0).encode(
            x=alt.value(-155), x2=alt.value(-154), y=alt.value(-25), y2=alt.value(-24))
        layers.append(anchor)
    if i == 3:
        for t, s, bx, sy in YTITLE:
            layers.append(txt(t, s, bx, sy, angle=270))
    return alt.layer(*layers).properties(width=W, height=H)


chart = alt.vconcat(*[build(i, p) for i, p in enumerate(PANELS)], spacing=40, bounds="flush").properties(
    padding={"left": 0, "top": 0, "right": 0, "bottom": 0},
    background="white",
).configure_view(stroke="black", strokeWidth=2)

chart.save("out.html", embed_options={"renderer": "svg", "actions": False})
